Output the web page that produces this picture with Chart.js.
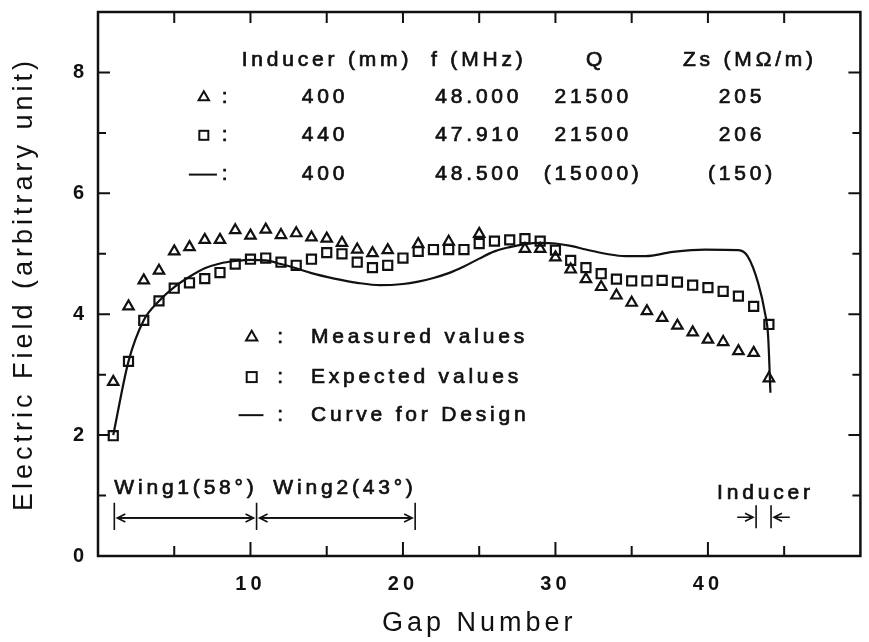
<!DOCTYPE html>
<html>
<head>
<meta charset="utf-8">
<script src="https://cdn.jsdelivr.net/npm/chart.js@4.4.1/dist/chart.umd.min.js"></script>
<style>
  html, body { margin: 0; background: #fff; }
</style>
</head>
<body>
<canvas id="fieldchart" width="869" height="642"></canvas>
<script>
// gap numbers 1..44
const gaps = [1, 2, 3, 4, 5, 6, 7, 8, 9, 10, 11, 12, 13, 14, 15, 16, 17, 18, 19, 20, 21, 22,
              23, 24, 25, 26, 27, 28, 29, 30, 31, 32, 33, 34, 35, 36, 37, 38, 39, 40, 41, 42, 43, 44];

// triangles (measured), null where no triangle is visible
const measured = [2.88, 4.13, 4.56, 4.72, 5.04, 5.11, 5.23, 5.23, 5.39, 5.30, 5.40, 5.31, 5.34, 5.27,
                  5.25, 5.18, 5.07, 5.01, 5.06, null, 5.16, null, 5.20, null, 5.33, null, null, 5.08,
                  5.08, 4.94, 4.74, 4.58, 4.45, 4.31, 4.19, 4.05, 3.94, 3.81, 3.70, 3.58, 3.54, 3.39,
                  3.36, 2.94];

// squares (expected)
const expected = [1.99, 3.22, 3.90, 4.22, 4.43, 4.52, 4.59, 4.69, 4.83, 4.91, 4.93, 4.86, 4.81, 4.91,
                  5.02, 5.00, 4.86, 4.77, 4.81, 4.93, 5.04, 5.07, 5.07, 5.07, 5.17, 5.21, 5.23, 5.25,
                  5.21, 5.06, 4.89, 4.77, 4.67, 4.58, 4.55, 4.55, 4.56, 4.53, 4.48, 4.44, 4.38, 4.30,
                  4.13, 3.83];

// design curve
const designGap = [1, 2, 3, 4, 5, 6, 7, 8, 9, 10, 11, 12, 13, 14, 15.5, 17, 18.5, 20, 21, 22, 23,
                   24, 25, 26, 27, 28, 29, 30, 31, 32, 33.3, 34.6, 35.9, 37.7, 39.8, 42,
                   42.6, 43.3, 43.75, 43.95, 44.1];
const designField = [2.0, 3.22, 3.9, 4.22, 4.45, 4.62, 4.76, 4.84, 4.88, 4.9, 4.89, 4.83, 4.76, 4.68,
                     4.59, 4.52, 4.48, 4.5, 4.54, 4.6, 4.68, 4.79, 4.92, 5.04, 5.11, 5.16, 5.18, 5.17,
                     5.13, 5.07, 5.0, 4.96, 4.96, 5.03, 5.07, 5.06, 4.96, 4.51, 4.01, 3.63, 2.7];

// parameter table
const tableHead = ['Inducer (mm)', 'f (MHz)', 'Q', 'Zs (MΩ/m)'];
const rowMeasured = ['400', '48.000', '21500', '205'];
const rowExpected = ['440', '47.910', '21500', '206'];
const rowDesign = ['400', '48.500', '(15000)', '(150)'];

const legendText = ['Measured values', 'Expected values', 'Curve for Design'];

const ink = '#111';
const fontFamily = '"Liberation Sans", Arial, sans-serif';

function pts(xs, ys) {
    return xs.map((g, i) => ({ x: g, y: ys[i] }));
}

function spaced(ctx, str, px, py, align) {
    const ls = parseFloat(ctx.letterSpacing) || 0;
    const w = ctx.measureText(str).width - ls;
    const left = align === 'center' ? px - w / 2 : px;
    ctx.textAlign = 'left';
    ctx.fillText(str, left, py);
    ctx.lineWidth = 0.7;
    ctx.strokeText(str, left, py);
}

function triangle(ctx, px, py, r) {
    ctx.beginPath();
    ctx.moveTo(px, py - r);
    ctx.lineTo(px + r * 0.866, py + r / 2);
    ctx.lineTo(px - r * 0.866, py + r / 2);
    ctx.closePath();
    ctx.stroke();
}

function square(ctx, px, py, s) {
    ctx.strokeRect(px - s / 2, py - s / 2, s, s);
}

function arrow(ctx, x1, x2, py) {
    ctx.beginPath();
    ctx.moveTo(x1, py);
    ctx.lineTo(x2, py);
    const d = x2 > x1 ? -1 : 1;
    ctx.moveTo(x2 + d * 8, py - 4);
    ctx.lineTo(x2, py);
    ctx.lineTo(x2 + d * 8, py + 4);
    ctx.stroke();
}

const annotations = {
    id: 'annotations',
    beforeDraw(chart) {
        chart.ctx.letterSpacing = '4px';
    },
    afterDraw(chart) {
        const { ctx, chartArea: a, scales: { x, y } } = chart;
        const X = v => x.getPixelForValue(v);
        const Y = v => y.getPixelForValue(v);
        ctx.save();
        ctx.strokeStyle = ink;
        ctx.fillStyle = ink;

        // frame + inward ticks
        ctx.lineWidth = 2.5;
        ctx.strokeRect(a.left, a.top, a.right - a.left, a.bottom - a.top);
        ctx.lineWidth = 2;
        ctx.beginPath();
        for (let g = 5; g < 50; g += 5) {
            ctx.moveTo(X(g), a.bottom);
            ctx.lineTo(X(g), a.bottom - (g % 10 === 0 ? 14 : 10));
            ctx.moveTo(X(g), a.top);
            ctx.lineTo(X(g), a.top + 11);
        }
        for (let v = 1; v < 9; v++) {
            const len = v % 2 === 0 ? 12 : 8;
            ctx.moveTo(a.left, Y(v));
            ctx.lineTo(a.left + len, Y(v));
            ctx.moveTo(a.right, Y(v));
            ctx.lineTo(a.right - len, Y(v));
        }
        ctx.stroke();

        // table
        ctx.font = '21px ' + fontFamily;
        ctx.letterSpacing = '3.8px';
        ctx.textBaseline = 'middle';
        const headX = [14.89, 24.85, 32.54, 42.63];
        const valX = [14.76, 24.85, 32.35, 42.11];
        tableHead.forEach((t, i) => spaced(ctx, t, X(headX[i]), Y(8.2), 'center'));
        [rowMeasured, rowExpected, rowDesign].forEach((row, r) => {
            const yy = Y([7.59, 6.96, 6.31][r]);
            row.forEach((t, i) => spaced(ctx, t, X(valX[i]), yy, 'center'));
            spaced(ctx, ':', X(8.3), yy, 'center');
        });
        ctx.lineWidth = 2;
        triangle(ctx, X(6.94), Y(7.59), 6);
        square(ctx, X(6.94), Y(6.96), 9);
        ctx.beginPath();
        ctx.moveTo(X(5.96), Y(6.31));
        ctx.lineTo(X(7.8), Y(6.31));
        ctx.stroke();

        // legend
        const legY = [3.62, 2.96, 2.33];
        legendText.forEach((t, i) => {
            spaced(ctx, t, X(13.97), Y(legY[i]), 'left');
            spaced(ctx, ':', X(11.95), Y(legY[i]), 'center');
        });
        ctx.lineWidth = 2;
        triangle(ctx, X(10.08), Y(legY[0]), 6.5);
        square(ctx, X(10.08), Y(legY[1]), 10);
        ctx.beginPath();
        ctx.moveTo(X(9.22), Y(legY[2]));
        ctx.lineTo(X(10.85), Y(legY[2]));
        ctx.stroke();

        // wing ranges
        spaced(ctx, 'Wing1(58°)', X(1.07), Y(1.12), 'left');
        spaced(ctx, 'Wing2(43°)', X(11.5), Y(1.12), 'left');
        ctx.lineWidth = 1.6;
        ctx.beginPath();
        [1.07, 10.4, 20.8].forEach(g => {
            ctx.moveTo(X(g), Y(0.88));
            ctx.lineTo(X(g), Y(0.43));
        });
        ctx.stroke();
        arrow(ctx, X(10.4) - 3, X(1.07) + 3, Y(0.63));
        arrow(ctx, X(1.07) + 3, X(10.4) - 3, Y(0.63));
        arrow(ctx, X(20.8) - 3, X(10.4) + 3, Y(0.63));
        arrow(ctx, X(10.4) + 3, X(20.8) - 3, Y(0.63));

        // inducer
        spaced(ctx, 'Inducer', X(40.6), Y(1.04), 'left');
        ctx.lineWidth = 1.6;
        ctx.beginPath();
        [43.16, 44.14].forEach(g => {
            ctx.moveTo(X(g), Y(0.84));
            ctx.lineTo(X(g), Y(0.46));
        });
        ctx.stroke();
        arrow(ctx, X(41.92), X(42.96), Y(0.64));
        arrow(ctx, X(45.37), X(44.33), Y(0.64));

        ctx.restore();
    }
};

const ctx = document.getElementById('fieldchart').getContext('2d');
const fieldChart = new Chart(ctx, {
    type: 'scatter',
    data: {
        datasets: [{
            label: 'Measured values',
            data: pts(gaps, measured),
            pointStyle: 'triangle',
            pointRadius: 6,
            borderWidth: 2.2,
            borderColor: ink,
            backgroundColor: 'rgba(0,0,0,0)'
        }, {
            label: 'Expected values',
            data: pts(gaps, expected),
            pointStyle: 'rect',
            pointRadius: 6.4,
            borderWidth: 2.2,
            borderColor: ink,
            backgroundColor: 'rgba(0,0,0,0)'
        }, {
            label: 'Curve for Design',
            data: pts(designGap, designField),
            showLine: true,
            pointRadius: 0,
            borderWidth: 2.2,
            borderColor: ink,
            cubicInterpolationMode: 'monotone'
        }]
    },
    options: {
        responsive: false,
        animation: false,
        layout: { padding: { top: 12, right: 4, left: 0, bottom: 0 } },
        plugins: {
            legend: { display: false },
            tooltip: { enabled: false }
        },
        scales: {
            x: {
                type: 'linear',
                min: 0,
                max: 50,
                afterFit: s => {
                    s.height = 86;
                    s.paddingLeft = 0;
                    s.paddingRight = 0;
                },
                grid: { display: false, drawTicks: false },
                border: { display: false },
                ticks: {
                    stepSize: 5,
                    autoSkip: false,
                    maxRotation: 0,
                    padding: 16,
                    color: ink,
                    font: { family: fontFamily, size: 20, weight: 'bold' },
                    callback: v => (v % 10 === 0 && v > 0 && v < 50 ? v : '')
                },
                title: {
                    display: true,
                    text: 'Gap Number',
                    color: ink,
                    font: { family: fontFamily, size: 27 },
                    padding: { top: 0, bottom: 2 }
                }
            },
            y: {
                min: 0,
                max: 9,
                afterFit: s => {
                    s.width = 98;
                    s.paddingTop = 0;
                    s.paddingBottom = 0;
                },
                grid: { display: false, drawTicks: false },
                border: { display: false },
                ticks: {
                    stepSize: 1,
                    autoSkip: false,
                    padding: 10,
                    color: ink,
                    font: { family: fontFamily, size: 20, weight: 'bold' },
                    callback: v => (v % 2 === 0 && v < 9 ? v : '')
                },
                title: {
                    display: true,
                    text: 'Electric Field (arbitrary unit)',
                    color: ink,
                    font: { family: fontFamily, size: 27 },
                    padding: { top: 8, bottom: 0 }
                }
            }
        }
    },
    plugins: [annotations]
});
</script>
</body>
</html>
